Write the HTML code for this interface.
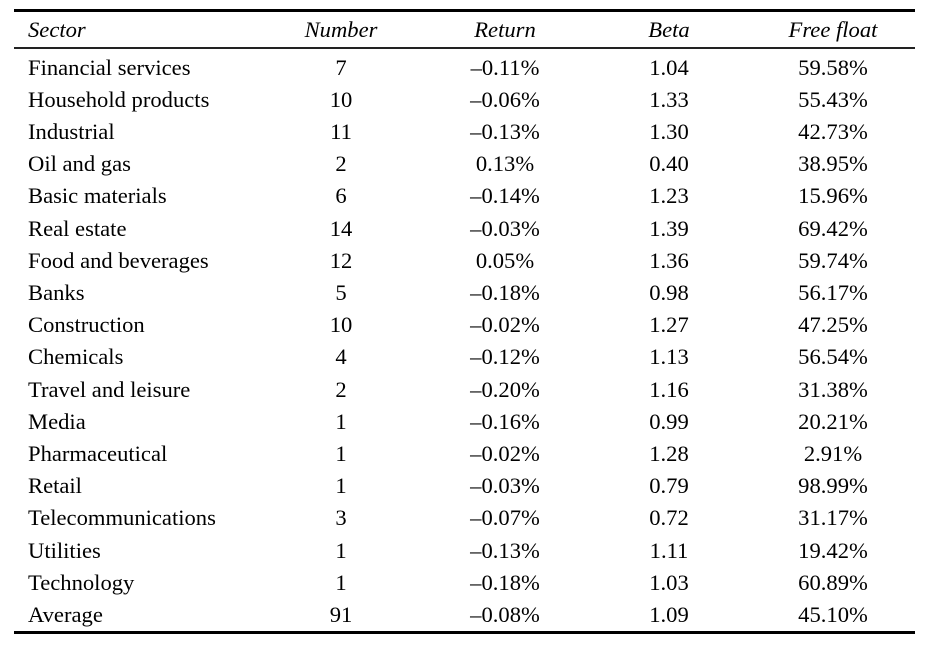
<!DOCTYPE html>
<html>
<head>
<meta charset="utf-8">
<style>
  html, body { margin:0; padding:0; background:#fff; }
  body { width:930px; height:653px; position:relative; overflow:hidden;
         font-family:"Liberation Serif","Times New Roman",serif; font-size:22.6px; color:#000; }
  .rule { position:absolute; left:14px; width:901px; background:#000; }
  .t { position:absolute; line-height:32px; height:32px; white-space:nowrap; }
  .s { left:28px; }
  .c { width:200px; text-align:center; }
  .c1 { left:241px; }
  .c2 { left:405px; }
  .c3 { left:569px; }
  .c4 { left:733px; }
  .h { font-style:italic; }
</style>
</head>
<body>
<div class="rule" style="top:9px;height:3px;"></div>
<div class="rule" style="top:47px;height:2px;background:#222;"></div>
<div class="rule" style="top:631px;height:3px;"></div>

<div class="t s h" style="top:13.5px;">Sector</div>
<div class="t c c1 h" style="top:13.5px;">Number</div>
<div class="t c c2 h" style="top:13.5px;">Return</div>
<div class="t c c3 h" style="top:13.5px;">Beta</div>
<div class="t c c4 h" style="top:13.5px;">Free float</div>

<div class="t s" style="top:51.5px;">Financial services</div>
<div class="t c c1" style="top:51.5px;">7</div>
<div class="t c c2" style="top:51.5px;">–0.11%</div>
<div class="t c c3" style="top:51.5px;">1.04</div>
<div class="t c c4" style="top:51.5px;">59.58%</div>

<div class="t s" style="top:83.7px;">Household products</div>
<div class="t c c1" style="top:83.7px;">10</div>
<div class="t c c2" style="top:83.7px;">–0.06%</div>
<div class="t c c3" style="top:83.7px;">1.33</div>
<div class="t c c4" style="top:83.7px;">55.43%</div>

<div class="t s" style="top:115.9px;">Industrial</div>
<div class="t c c1" style="top:115.9px;">11</div>
<div class="t c c2" style="top:115.9px;">–0.13%</div>
<div class="t c c3" style="top:115.9px;">1.30</div>
<div class="t c c4" style="top:115.9px;">42.73%</div>

<div class="t s" style="top:148.1px;">Oil and gas</div>
<div class="t c c1" style="top:148.1px;">2</div>
<div class="t c c2" style="top:148.1px;">0.13%</div>
<div class="t c c3" style="top:148.1px;">0.40</div>
<div class="t c c4" style="top:148.1px;">38.95%</div>

<div class="t s" style="top:180.3px;">Basic materials</div>
<div class="t c c1" style="top:180.3px;">6</div>
<div class="t c c2" style="top:180.3px;">–0.14%</div>
<div class="t c c3" style="top:180.3px;">1.23</div>
<div class="t c c4" style="top:180.3px;">15.96%</div>

<div class="t s" style="top:212.5px;">Real estate</div>
<div class="t c c1" style="top:212.5px;">14</div>
<div class="t c c2" style="top:212.5px;">–0.03%</div>
<div class="t c c3" style="top:212.5px;">1.39</div>
<div class="t c c4" style="top:212.5px;">69.42%</div>

<div class="t s" style="top:244.7px;">Food and beverages</div>
<div class="t c c1" style="top:244.7px;">12</div>
<div class="t c c2" style="top:244.7px;">0.05%</div>
<div class="t c c3" style="top:244.7px;">1.36</div>
<div class="t c c4" style="top:244.7px;">59.74%</div>

<div class="t s" style="top:276.9px;">Banks</div>
<div class="t c c1" style="top:276.9px;">5</div>
<div class="t c c2" style="top:276.9px;">–0.18%</div>
<div class="t c c3" style="top:276.9px;">0.98</div>
<div class="t c c4" style="top:276.9px;">56.17%</div>

<div class="t s" style="top:309.1px;">Construction</div>
<div class="t c c1" style="top:309.1px;">10</div>
<div class="t c c2" style="top:309.1px;">–0.02%</div>
<div class="t c c3" style="top:309.1px;">1.27</div>
<div class="t c c4" style="top:309.1px;">47.25%</div>

<div class="t s" style="top:341.3px;">Chemicals</div>
<div class="t c c1" style="top:341.3px;">4</div>
<div class="t c c2" style="top:341.3px;">–0.12%</div>
<div class="t c c3" style="top:341.3px;">1.13</div>
<div class="t c c4" style="top:341.3px;">56.54%</div>

<div class="t s" style="top:373.5px;">Travel and leisure</div>
<div class="t c c1" style="top:373.5px;">2</div>
<div class="t c c2" style="top:373.5px;">–0.20%</div>
<div class="t c c3" style="top:373.5px;">1.16</div>
<div class="t c c4" style="top:373.5px;">31.38%</div>

<div class="t s" style="top:405.7px;">Media</div>
<div class="t c c1" style="top:405.7px;">1</div>
<div class="t c c2" style="top:405.7px;">–0.16%</div>
<div class="t c c3" style="top:405.7px;">0.99</div>
<div class="t c c4" style="top:405.7px;">20.21%</div>

<div class="t s" style="top:437.9px;">Pharmaceutical</div>
<div class="t c c1" style="top:437.9px;">1</div>
<div class="t c c2" style="top:437.9px;">–0.02%</div>
<div class="t c c3" style="top:437.9px;">1.28</div>
<div class="t c c4" style="top:437.9px;">2.91%</div>

<div class="t s" style="top:470.1px;">Retail</div>
<div class="t c c1" style="top:470.1px;">1</div>
<div class="t c c2" style="top:470.1px;">–0.03%</div>
<div class="t c c3" style="top:470.1px;">0.79</div>
<div class="t c c4" style="top:470.1px;">98.99%</div>

<div class="t s" style="top:502.3px;">Telecommunications</div>
<div class="t c c1" style="top:502.3px;">3</div>
<div class="t c c2" style="top:502.3px;">–0.07%</div>
<div class="t c c3" style="top:502.3px;">0.72</div>
<div class="t c c4" style="top:502.3px;">31.17%</div>

<div class="t s" style="top:534.5px;">Utilities</div>
<div class="t c c1" style="top:534.5px;">1</div>
<div class="t c c2" style="top:534.5px;">–0.13%</div>
<div class="t c c3" style="top:534.5px;">1.11</div>
<div class="t c c4" style="top:534.5px;">19.42%</div>

<div class="t s" style="top:566.7px;">Technology</div>
<div class="t c c1" style="top:566.7px;">1</div>
<div class="t c c2" style="top:566.7px;">–0.18%</div>
<div class="t c c3" style="top:566.7px;">1.03</div>
<div class="t c c4" style="top:566.7px;">60.89%</div>

<div class="t s" style="top:598.9px;">Average</div>
<div class="t c c1" style="top:598.9px;">91</div>
<div class="t c c2" style="top:598.9px;">–0.08%</div>
<div class="t c c3" style="top:598.9px;">1.09</div>
<div class="t c c4" style="top:598.9px;">45.10%</div>
</body>
</html>
